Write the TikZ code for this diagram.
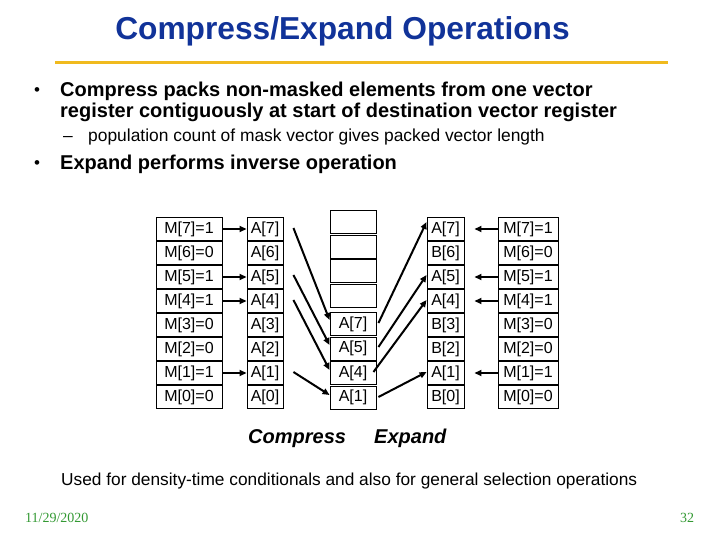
\documentclass[tikz,border=0pt]{standalone}
\usepackage{fontspec}
\setmainfont{Liberation Sans}
\newfontfamily\timesfont{Liberation Serif}
\usetikzlibrary{arrows.meta,calc}
\definecolor{titleblue}{RGB}{17,51,153}
\definecolor{rulegold}{RGB}{240,186,30}
\definecolor{footgreen}{RGB}{51,153,51}
\begin{document}
\begin{tikzpicture}[x=1pt,y=-1pt,
  cell/.style={draw, line width=0.9pt, minimum height=22.5pt, inner sep=0pt, font=\fontsize{16}{18}\selectfont},
  arr/.style={line width=2pt, -{Triangle[length=7pt,width=6pt]}},
  txt/.style={anchor=base west, inner sep=0pt},
  big/.style={font=\bfseries\fontsize{20}{24}\selectfont},
  bul/.style={font=\fontsize{17}{20}\selectfont},
  small/.style={font=\fontsize{17.4}{21}\selectfont}]
\useasboundingbox (0,0) rectangle (720,540);
% title
\node[anchor=base, inner sep=0pt, text=titleblue, font=\bfseries\fontsize{31.7}{36}\selectfont] (title) at (342.5,40) {Compress/Expand Operations};
\coordinate (r1) at (55,63);
\coordinate (r2) at (668,63);
\draw[rulegold, line width=3pt] (r1) -- (r2);
% bullets
\node[txt, bul] (b1) at (34,96) {•};
\node[txt, big] (t1) at (60,97) {Compress packs non-masked elements from one vector};
\node[txt, big] (t2) at (60,118) {register contiguously at start of destination vector register};
\node[txt, small] (d1) at (63,142) {–};
\node[txt, small] (t3) at (88,142) {population count of mask vector gives packed vector length};
\node[txt, bul] (b2) at (34,169) {•};
\node[txt, big] (t4) at (60,170) {Expand performs inverse operation};
% columns
\foreach \i/\m/\s [count=\k from 0] in {7/1/A,6/0/B,5/1/A,4/1/A,3/0/B,2/0/B,1/1/A,0/0/B}{
  \node[cell, minimum width=66pt] (lm\i) at (189,{229+24*\k}) {M[\i]=\m};
  \node[cell, minimum width=36pt] (sa\i) at (265,{229+24*\k}) {A[\i]};
  \node[cell, minimum width=37pt] (ea\i) at (445.5,{229+24*\k}) {\s[\i]};
  \node[cell, minimum width=60pt] (rm\i) at (528,{229+24*\k}) {M[\i]=\m};
}
\foreach \j/\y in {1/222,2/246.5,3/271,4/295.5}{
  \node[cell, minimum width=46pt, minimum height=23pt] (e\j) at (353,\y) {};
}
\foreach \i/\y in {7/324,5/348.5,4/373,1/397.5}{
  \node[cell, minimum width=46pt, minimum height=23pt] (c\i) at (353,\y) {A[\i]};
}
% arrows
\foreach \i in {7,5,4,1}{
  \draw[arr] (lm\i.east) -- (sa\i.west);
  \draw[arr] (rm\i.west) -- ($(ea\i.east)+(10,0)$);
}
\draw[arr] ($(sa7.east)+(10,-1)$) -- ($(c7.west)+(0,-4)$);
\draw[arr] ($(sa5.east)+(10,-2)$) -- ($(c5.west)+(0,-3.5)$);
\draw[arr] ($(sa4.east)+(10,-1)$) -- ($(c4.west)+(0,-3)$);
\draw[arr] ($(sa1.east)+(10,-1)$) -- ($(c1.west)+(0,-2.5)$);
\draw[arr] ($(c7.east)+(2,-1)$) -- ($(ea7.west)+(0,-7)$);
\draw[arr] ($(c5.east)+(2,-1.5)$) -- ($(ea5.west)+(0,-2)$);
\draw[arr] ($(c4.east)+(-3,-1)$) -- ($(ea4.west)+(0,-1)$);
\draw[arr] ($(c1.east)+(2,-0.5)$) -- ($(ea1.west)+(0,-1)$);
% labels
\node[txt, font=\bfseries\itshape\fontsize{20}{24}\selectfont] (lc) at (248,443) {Compress};
\node[txt, font=\bfseries\itshape\fontsize{20}{24}\selectfont] (le) at (374,443) {Expand};
\node[txt, font=\fontsize{17.3}{21}\selectfont] (bot) at (61,485) {Used for density-time conditionals and also for general selection operations};
\node[txt, text=footgreen, font=\timesfont\fontsize{14}{16}\selectfont] (date) at (25,522) {11/29/2020};
\node[txt, text=footgreen, font=\timesfont\fontsize{14}{16}\selectfont] (pg) at (680,522) {32};
\end{tikzpicture}
\end{document}
